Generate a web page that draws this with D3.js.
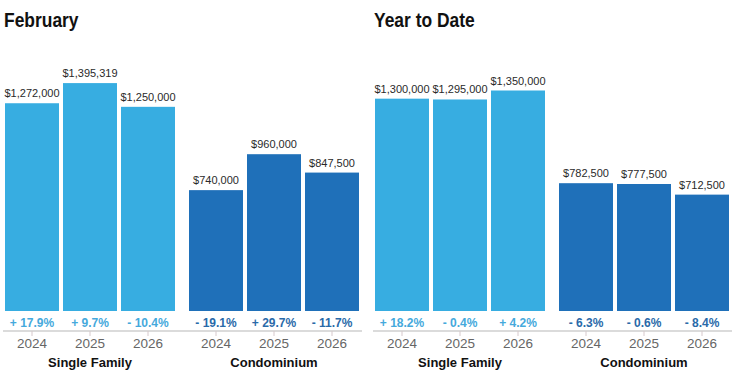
<!DOCTYPE html>
<html>
<head>
<meta charset="utf-8">
<script src="https://cdn.jsdelivr.net/npm/d3@7"></script>
<style>
  html, body { margin: 0; padding: 0; background: #fff; }
  svg { display: block; }
</style>
</head>
<body>
<svg id="chart" width="743" height="381"></svg>
<script>
const panelTitles = ["February", "Year to Date"];
const categories = ["Single Family", "Condominium"];
const years = ["2024", "2025", "2026"];

const febSingleFamily = [1272000, 1395319, 1250000];
const febCondo = [740000, 960000, 847500];
const ytdSingleFamily = [1300000, 1295000, 1350000];
const ytdCondo = [782500, 777500, 712500];

const febSingleFamilyPct = ["+ 17.9%", "+ 9.7%", "- 10.4%"];
const febCondoPct = ["- 19.1%", "+ 29.7%", "- 11.7%"];
const ytdSingleFamilyPct = ["+ 18.2%", "- 0.4%", "+ 4.2%"];
const ytdCondoPct = ["- 6.3%", "- 0.6%", "- 8.4%"];

const panels = [
  { title: panelTitles[0], values: [febSingleFamily, febCondo], pcts: [febSingleFamilyPct, febCondoPct] },
  { title: panelTitles[1], values: [ytdSingleFamily, ytdCondo], pcts: [ytdSingleFamilyPct, ytdCondoPct] }
];

const barColors = ["#37ade1", "#1f70b9"];
const pctColors = ["#45a9dc", "#2a6aa9"];

const svg = d3.select("#chart");
const fmt = v => "$" + d3.format(",")(v);

const y = d3.scaleLinear().domain([0, 1500000]).range([311, 66]);
const panelX = d3.scaleBand().domain(panelTitles).range([0, 740]).paddingInner(0);

panels.forEach(p => {
  const ox = panelX(p.title);
  const g = svg.append("g").attr("transform", `translate(${ox},0)`);

  g.append("text")
    .attr("transform", "translate(4,27) scale(0.83,1)")
    .attr("font-family", "'Liberation Sans', Arial, sans-serif")
    .attr("font-weight", "bold")
    .attr("font-size", 21)
    .attr("fill", "#111")
    .text(p.title);

  const xGroup = d3.scaleBand().domain(categories).range([5, 359]).paddingInner(14 / 184).paddingOuter(0);
  const xYear = d3.scaleBand().domain(years).range([0, xGroup.bandwidth()]).paddingInner(4 / 58).paddingOuter(0);

  // axis line
  g.append("line")
    .attr("x1", 3).attr("x2", 362)
    .attr("y1", 331).attr("y2", 331)
    .attr("stroke", "#cfcfcf").attr("stroke-width", 1.5);

  categories.forEach((cat, ci) => {
    const gx = xGroup(cat);
    const gg = g.append("g").attr("transform", `translate(${gx},0)`);
    const data = years.map((yr, i) => ({ yr, v: p.values[ci][i], pct: p.pcts[ci][i] }));

    gg.selectAll("rect").data(data).join("rect")
      .attr("x", d => xYear(d.yr))
      .attr("y", d => y(d.v))
      .attr("width", xYear.bandwidth())
      .attr("height", d => y(0) - y(d.v))
      .attr("fill", barColors[ci]);

    gg.selectAll("text.val").data(data).join("text")
      .attr("class", "val")
      .attr("x", d => xYear(d.yr) + xYear.bandwidth() / 2)
      .attr("y", d => y(d.v) - 6)
      .attr("text-anchor", "middle")
      .attr("font-family", "'Liberation Sans', Arial, sans-serif")
      .attr("font-size", 11)
      .attr("fill", "#2a2a2a")
      .text(d => fmt(d.v));

    gg.selectAll("text.pct").data(data).join("text")
      .attr("class", "pct")
      .attr("x", d => xYear(d.yr) + xYear.bandwidth() / 2)
      .attr("y", 327)
      .attr("text-anchor", "middle")
      .attr("font-family", "'Liberation Sans', Arial, sans-serif")
      .attr("font-weight", "bold")
      .attr("font-size", 12)
      .attr("fill", pctColors[ci])
      .text(d => d.pct);

    gg.selectAll("line.tick").data(data).join("line")
      .attr("class", "tick")
      .attr("x1", d => xYear(d.yr) + xYear.bandwidth() / 2)
      .attr("x2", d => xYear(d.yr) + xYear.bandwidth() / 2)
      .attr("y1", 331).attr("y2", 336)
      .attr("stroke", "#d6c9cc").attr("stroke-width", 1);

    gg.selectAll("text.yr").data(data).join("text")
      .attr("class", "yr")
      .attr("x", d => xYear(d.yr) + xYear.bandwidth() / 2)
      .attr("y", 348)
      .attr("text-anchor", "middle")
      .attr("font-family", "'Liberation Sans', Arial, sans-serif")
      .attr("font-size", 13.5)
      .attr("fill", "#666")
      .text(d => d.yr);

    gg.append("text")
      .attr("x", xGroup.bandwidth() / 2)
      .attr("y", 367)
      .attr("text-anchor", "middle")
      .attr("font-family", "'Liberation Sans', Arial, sans-serif")
      .attr("font-weight", "bold")
      .attr("font-size", 13)
      .attr("fill", "#111")
      .text(cat);
  });
});
</script>
</body>
</html>
